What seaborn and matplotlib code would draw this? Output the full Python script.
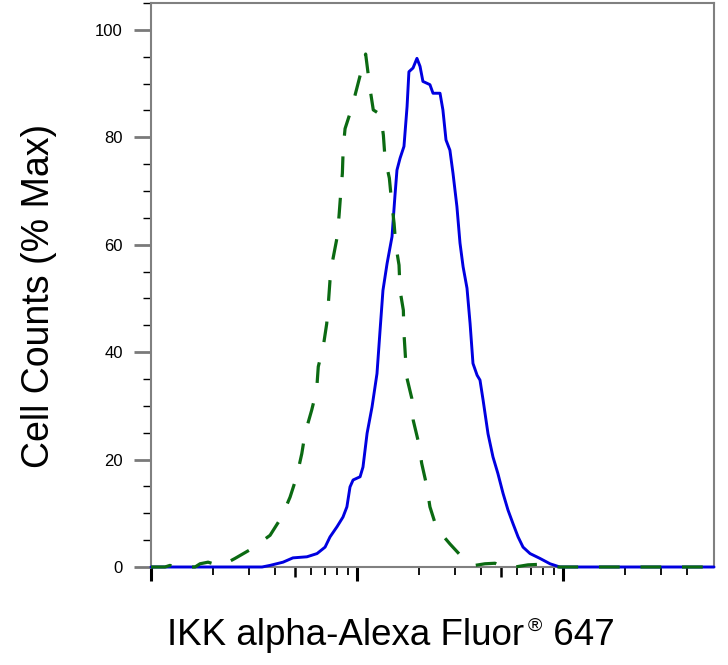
import numpy as np
import pandas as pd
import matplotlib
matplotlib.use("Agg")
import matplotlib.pyplot as plt
from matplotlib.ticker import FixedLocator, MultipleLocator, NullFormatter, LogLocator
import seaborn as sns

# ---- data (x in log10 units of fluorescence intensity, y in % of max) ----
blue_logx = [1.000, 1.456, 1.539, 1.578, 1.641, 1.689, 1.757, 1.806, 1.845, 1.869,
             1.903, 1.932, 1.951, 1.966, 1.981, 2.015, 2.029, 2.049, 2.073, 2.097,
             2.112, 2.126, 2.146, 2.170, 2.184, 2.194, 2.209, 2.228, 2.243, 2.252,
             2.272, 2.291, 2.306, 2.320, 2.354, 2.369, 2.403, 2.417, 2.432, 2.451,
             2.466, 2.485, 2.500, 2.515, 2.534, 2.549, 2.563, 2.583, 2.597, 2.612,
             2.636, 2.660, 2.684, 2.709, 2.733, 2.757, 2.782, 2.806, 2.840, 2.888,
             2.937, 2.985, 3.733]
blue_pct = [0, 0, 0, 0.3, 0.9, 1.7, 1.9, 2.5, 3.7, 5.6,
            7.5, 9.3, 11.2, 14.9, 16.2, 16.8, 18.6, 24.9, 29.8, 36.0,
            44.1, 51.5, 56.5, 61.5, 69.0, 73.9, 76.1, 78.3, 85.7, 92.2,
            92.9, 94.7, 93.2, 90.4, 89.8, 88.2, 88.2, 85.1, 79.5, 77.6,
            73.3, 67.1, 60.3, 55.9, 51.9, 45.3, 37.9, 35.7, 34.8, 31.1,
            24.8, 20.5, 17.4, 13.7, 10.6, 8.1, 5.6, 3.7, 2.5, 1.6,
            0.6, 0, 0]

green_logx = [1.000, 1.068, 1.092, 1.117, 1.214, 1.238, 1.277, 1.311, 1.345, 1.408,
              1.489, 1.578, 1.634, 1.675, 1.707, 1.732, 1.748, 1.780, 1.804, 1.812,
              1.836, 1.853, 1.861, 1.869, 1.882, 1.904, 1.913, 1.921, 1.929, 1.933,
              1.942, 1.974, 1.999, 2.042, 2.063, 2.079, 2.115, 2.128, 2.136, 2.157,
              2.168, 2.180, 2.188, 2.204, 2.209, 2.225, 2.228, 2.234, 2.241, 2.266,
              2.273, 2.298, 2.314, 2.338, 2.354, 2.387, 2.451, 2.516, 2.573, 2.621,
              2.670, 2.709, 2.767, 2.830, 2.888, 2.927, 2.961, 3.733]
green_pct = [0, 0, 0.3, 0, 0, 0.6, 0.9, 0.5, 0.3, 1.6,
             3.4, 5.9, 9.3, 13.0, 16.8, 21.1, 24.9, 29.2, 32.9, 37.3,
             41.0, 45.3, 49.1, 53.4, 57.1, 61.5, 65.5, 69.6, 73.3, 77.9,
             81.6, 85.4, 89.1, 95.5, 89.1, 85.1, 84.2, 80.4, 76.1, 72.4,
             68.0, 64.0, 60.0, 56.2, 51.5, 47.8, 43.5, 39.8, 35.4, 31.4,
             27.3, 23.3, 19.3, 15.2, 11.2, 7.2, 4.3, 1.6, 0.3, 0.6,
             0.7, 0, 0, 0.4, 0.5, 0.2, 0, 0]

y_ticks = [0, 20, 40, 60, 80, 100]
x_decades = [1e1, 1e2, 1e3]
x_mid = [5e1, 5e2]
x_label_main = "IKK alpha-Alexa Fluor"
x_label_mark = "®"
x_label_tail = " 647"
y_label = "Cell Counts (% Max)"

# ---- style ----
sns.set_style("white")
plt.rcParams["font.family"] = ["Liberation Sans", "DejaVu Sans"]

blue_df = pd.DataFrame({"x": np.power(10.0, blue_logx), "y": blue_pct})
green_df = pd.DataFrame({"x": np.power(10.0, green_logx), "y": green_pct})

fig = plt.figure(figsize=(7.28, 6.65), dpi=100)
ax = fig.add_axes([151 / 728, (665 - 567) / 665, (714 - 151) / 728, (567 - 3) / 665])

sns.lineplot(data=blue_df, x="x", y="y", ax=ax, color="#0000e0", linewidth=2.1,
             estimator=None, sort=False, zorder=3, clip_on=False)
sns.lineplot(data=green_df, x="x", y="y", ax=ax, color="#0b6a12", linewidth=2.3,
             estimator=None, sort=False, zorder=4, clip_on=False,
             dashes=False, linestyle=(0, (6.5, 6.5)))

ax.set_xscale("log")
ax.set_xlim(10 ** 1.0, 10 ** 3.733)
ax.set_ylim(0, 105)

# spines
for s in ax.spines.values():
    s.set_visible(True)
    s.set_color("#808080")
    s.set_linewidth(1.5)

# x ticks
ax.xaxis.set_major_locator(FixedLocator(x_decades))
ax.xaxis.set_minor_locator(LogLocator(base=10, subs=[2, 3, 4, 6, 7, 8, 9], numticks=20))
ax.xaxis.set_major_formatter(NullFormatter())
ax.xaxis.set_minor_formatter(NullFormatter())
ax.tick_params(axis="x", which="major", direction="out", length=10, width=2.2,
               color="black", bottom=True, top=False)
ax.tick_params(axis="x", which="minor", direction="out", length=6, width=1.3,
               color="black", bottom=True, top=False)

sec = ax.secondary_xaxis("bottom")
sec.set_xticks(x_mid)
sec.xaxis.set_minor_locator(FixedLocator([]))
sec.set_xticklabels([])
sec.tick_params(axis="x", which="major", direction="out", length=7.5, width=1.8, color="black")
sec.spines["bottom"].set_visible(False)

# y ticks
ax.yaxis.set_major_locator(FixedLocator(y_ticks))
ax.yaxis.set_minor_locator(MultipleLocator(5))
ax.tick_params(axis="y", which="major", direction="out", length=12.2, width=2.0,
               color="#7a7a7a", left=True, right=False, labelsize=12, pad=8,
               labelcolor="black")
ax.tick_params(axis="y", which="minor", direction="out", length=5.8, width=1.0,
               color="black", left=True, right=False)
ax.set_yticklabels([str(v) for v in y_ticks])

# x label built from pieces so that the registered mark is a small superscript
xl = ax.set_xlabel(x_label_main, fontsize=26.5, color="black", ha="left")
ax.xaxis.set_label_coords(0.0284, -0.0905)
reg = ax.annotate(x_label_mark, xy=(1, 1), xycoords=xl, xytext=(2.5, 0),
                  textcoords="offset points", fontsize=14, ha="left", va="top",
                  color="black", annotation_clip=False)
ax.annotate(x_label_tail, xy=(1, 0), xycoords=(reg, xl), xytext=(0.5, 0),
            textcoords="offset points", fontsize=26.5, ha="left", va="bottom",
            color="black", annotation_clip=False)

ax.set_ylabel(y_label, fontsize=27, color="black")
ax.yaxis.set_label_coords(-0.167, 0.4805)

fig.savefig("out.png", dpi=100)
